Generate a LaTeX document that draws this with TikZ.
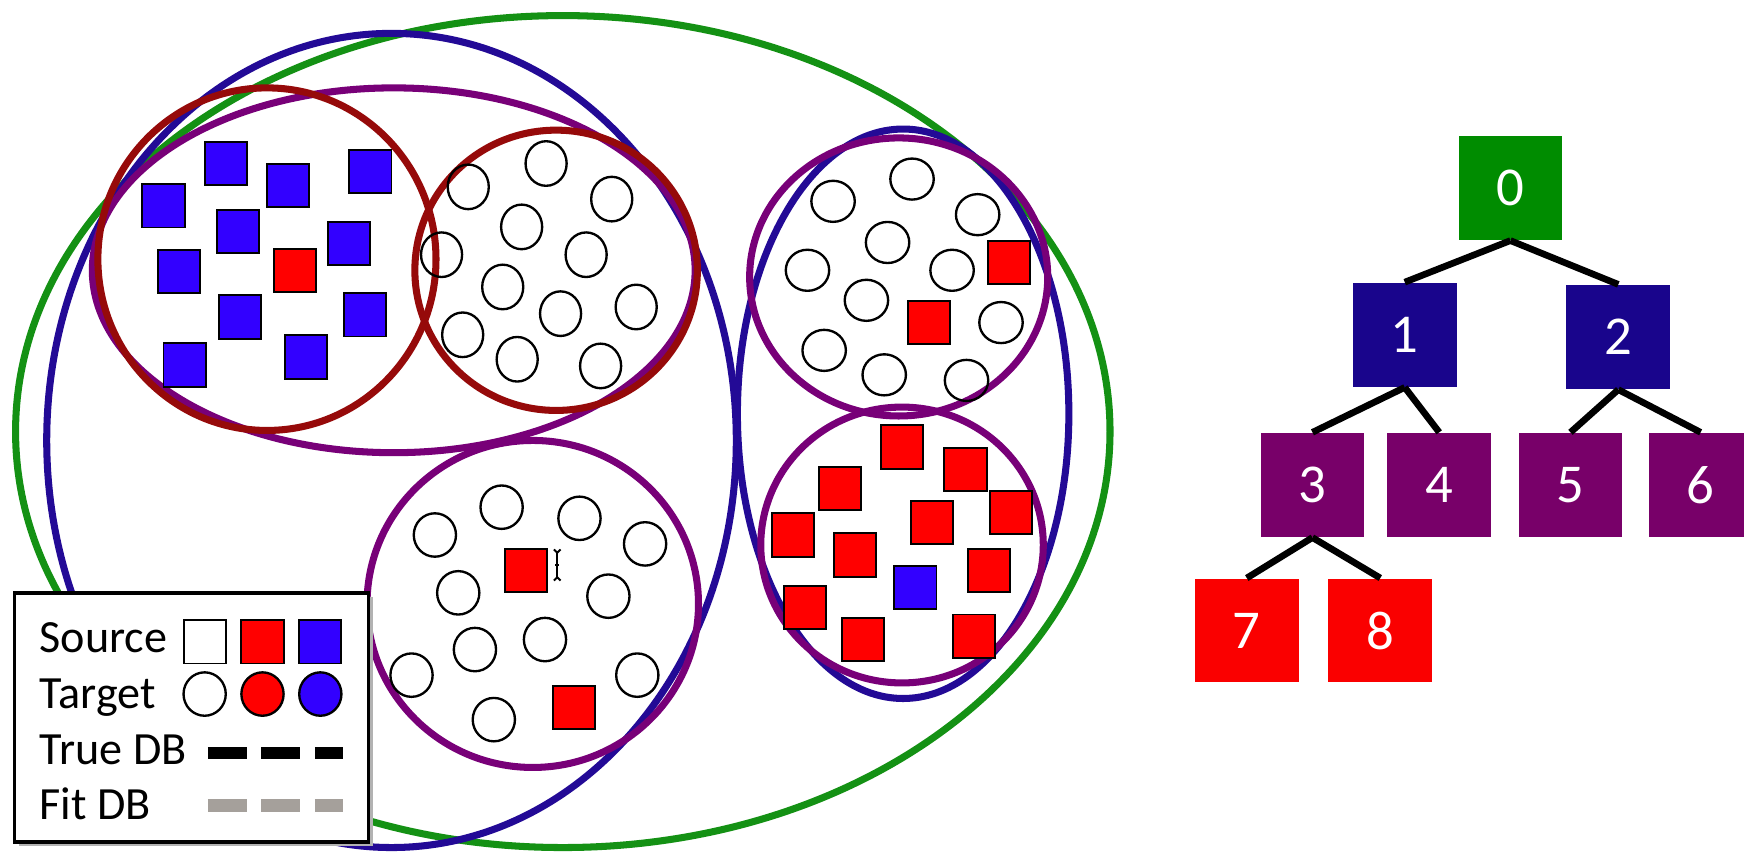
\documentclass[tikz,border=0pt]{standalone}
\usepackage{fontspec}
\setmainfont{Carlito}
\usetikzlibrary{shapes.geometric}
\definecolor{egreen}{RGB}{20,145,20}
\definecolor{eblue}{RGB}{35,10,150}
\definecolor{ered}{RGB}{150,10,10}
\definecolor{epurple}{RGB}{120,0,120}
\definecolor{sqblue}{RGB}{50,0,255}
\definecolor{sqred}{RGB}{255,0,0}
\definecolor{tgreen}{RGB}{0,140,0}
\definecolor{tblue}{RGB}{25,5,140}
\definecolor{tpurple}{RGB}{120,0,105}
\definecolor{tred}{RGB}{250,0,0}
\definecolor{dbgray}{RGB}{165,160,155}
\begin{document}
\begin{tikzpicture}[x=0.01cm,y=-0.01cm,
  ering/.style={line width=1.8pt},
  sqb/.style={draw=black, line width=0.5pt, fill=sqblue, minimum width=10.8pt, minimum height=11.1pt, inner sep=0pt},
  sqr/.style={sqb, fill=sqred},
  sqw/.style={sqb, fill=white},
  circA/.style={ellipse, draw=black, line width=0.6pt, minimum width=10.5pt, minimum height=11.4pt, inner sep=0pt},
  circB/.style={ellipse, draw=black, line width=0.6pt, minimum width=11.1pt, minimum height=10.5pt, inner sep=0pt},
  circC/.style={ellipse, draw=black, line width=0.6pt, minimum width=10.8pt, minimum height=11.1pt, inner sep=0pt},
  tbox/.style={minimum size=26.5pt, inner sep=0pt, text=white, font=\fontsize{14pt}{16pt}\selectfont},
  tedge/.style={line width=1.7pt, black},
  legtext/.style={anchor=base west, inner sep=0pt, font=\fontsize{11.8pt}{14pt}\selectfont},
  dbline/.style={line width=3.2pt}
]
\useasboundingbox[fill=white] (0,0) rectangle (1568,766);

% large ellipses
\draw[ering, egreen] (506,388) ellipse [x radius=492, y radius=374];
\draw[ering, eblue] (352,396) ellipse [x radius=310, y radius=366];
\draw[ering, eblue] (812,372) ellipse [x radius=149, y radius=256];
\draw[ering, epurple] (354,243) ellipse [x radius=271, y radius=164];
\draw[ering, ered] (240,233) ellipse [x radius=152, y radius=154];
\draw[ering, ered] (500,243) ellipse [x radius=127, y radius=126];
\draw[ering, epurple] (479,543) ellipse [x radius=149, y radius=147];
\draw[ering, epurple] (808,249) ellipse [x radius=134, y radius=125];
\draw[ering, epurple] (811,490) ellipse [x radius=127, y radius=124];

% left cluster: blue squares
\foreach \p [count=\i] in {(147,185),(203,147),(259,167),(333,154),(214,208),(314,219),(161,244),(216,285),(328,283),(166,328),(275,321)}
  \node[sqb] (lb\i) at \p {};
\node[sqr] (lr1) at (265,243) {};

% middle-left circles
\foreach \p [count=\i] in {(421,168),(491,147),(550,179),(469,204),(397,229),(527,229),(452,258),(504,282),(572,276),(416,301),(465,323),(540,329)}
  \node[circA] (mc\i) at \p {};

% bottom-middle circles
\foreach \p [count=\i] in {(391,481),(451,456),(521,466),(580,489),(412,533),(547,536),(427,584),(490,575),(370,607),(573,607),(444,647)}
  \node[circC] (bc\i) at \p {};
\node[sqr] (br1) at (473,513) {};
\node[sqr] (br2) at (516,636) {};
% cursor
\draw[line width=0.5pt] (501,496) -- (501,520);
\draw[line width=0.5pt] (498,494) -- (501,497) -- (504,494);
\draw[line width=0.5pt] (498,522) -- (501,519) -- (504,522);
\draw[line width=0.5pt] (499,508) -- (503,508);

% right-top circles
\foreach \p [count=\i] in {(749,181),(820,161),(879,193),(798,218),(726,243),(856,243),(779,270),(741,315),(795,337),(869,342),(900,290)}
  \node[circB] (rc\i) at \p {};
\node[sqr] (rr1) at (907,236) {};
\node[sqr] (rr2) at (835,290) {};

% right-bottom squares
\foreach \p [count=\i] in {(811,402),(868,422),(755,439),(838,470),(909,461),(713,481),(769,499),(889,513),(724,546),(776,575),(876,572)}
  \node[sqr] (rs\i) at \p {};
\node[sqb] (rb1) at (823,528) {};

% legend
\fill[black!30] (17,537) rectangle (335,761);
\node[draw=black, fill=white, line width=0.9pt, minimum width=90.5pt, minimum height=63.7pt, inner sep=0pt] (legend) at (172,645) {};
\node[legtext] (lsrc) at (35,587) {Source};
\node[legtext] (ltgt) at (35,637) {Target};
\node[legtext] (ltrue) at (35,687) {True DB};
\node[legtext] (lfit) at (35,737) {Fit DB};
\node[sqw] (ls1) at (184,577) {};
\node[sqr] (ls2) at (236,577) {};
\node[sqb] (ls3) at (288,577) {};
\node[circC, fill=white] (lc1) at (184,624) {};
\node[circC, fill=sqred] (lc2) at (236,624) {};
\node[circC, fill=sqblue] (lc3) at (288,624) {};
\draw[dbline, black] (187,677) -- (222,677);
\draw[dbline, black] (235,677) -- (270,677);
\draw[dbline, black] (283,677) -- (308,677);
\draw[dbline, dbgray] (187,724) -- (222,724);
\draw[dbline, dbgray] (235,724) -- (270,724);
\draw[dbline, dbgray] (283,724) -- (308,724);

% tree
\node[tbox, fill=tgreen] (n0) at (1358,169) {0};
\node[tbox, fill=tblue] (n1) at (1263,301) {1};
\node[tbox, fill=tblue] (n2) at (1455,303) {2};
\node[tbox, fill=tpurple] (n3) at (1180,436) {3};
\node[tbox, fill=tpurple] (n4) at (1294,436) {4};
\node[tbox, fill=tpurple] (n5) at (1412,436) {5};
\node[tbox, fill=tpurple] (n6) at (1529,436) {6};
\node[tbox, fill=tred] (n7) at (1121,567) {7};
\node[tbox, fill=tred] (n8) at (1241,567) {8};
\draw[tedge] (n0.south) -- (n1.north);
\draw[tedge] (n0.south) -- (n2.north);
\draw[tedge] (n1.south) -- (n3.north);
\draw[tedge] (n1.south) -- (n4.north);
\draw[tedge] (n2.south) -- (n5.north);
\draw[tedge] (n2.south) -- (n6.north);
\draw[tedge] (n3.south) -- (n7.north);
\draw[tedge] (n3.south) -- (n8.north);
\end{tikzpicture}
\end{document}
